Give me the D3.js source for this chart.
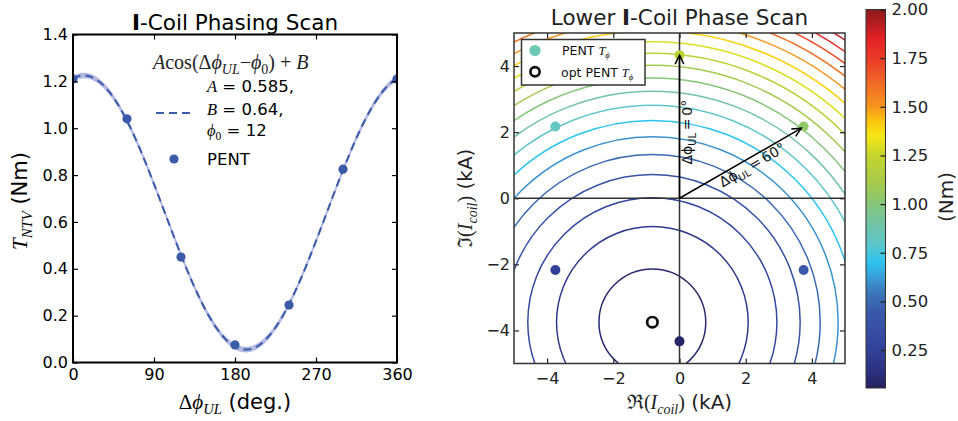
<!DOCTYPE html>
<html>
<head>
<meta charset="utf-8">
<script src="https://cdn.jsdelivr.net/npm/d3@7"></script>
<style>
  body { margin: 0; background: #fff; }
  text { font-family: "DejaVu Sans", sans-serif; }
</style>
</head>
<body>
<svg id="fig" width="958" height="421"></svg>
<script>
// Phasing scan (left panel).
const phase = [0, 60, 120, 180, 240, 300, 360];
const pentTorque = [1.21, 1.04, 0.45, 0.075, 0.245, 0.825, 1.21];
const fitA = 0.585;
const fitB = 0.64;
const fitPhi0 = 12;
const fitErr = 0.012;
const phaseTicks = [0, 90, 180, 270, 360];
const torqueTicks = [0, 0.2, 0.4, 0.6, 0.8, 1.0, 1.2, 1.4];

// Lower coil current plane (right panel).
const coilRe = [0, 3.75, 3.75, 0, -3.75, -3.75];
const coilIm = [4.33, 2.17, -2.17, -4.33, -2.17, 2.17];
const coilTorque = [1.21, 1.04, 0.45, 0.075, 0.245, 0.825];
const optRe = -0.82;
const optIm = -3.75;
const tMin = 0.055;
const tMax = 2.0;
const tCurv = 0.0173;
const levels = [0.1, 0.2, 0.3, 0.4, 0.5, 0.6, 0.7, 0.8, 0.9, 1.0,
                1.1, 1.2, 1.3, 1.4, 1.5, 1.6, 1.7, 1.8, 1.9];
const arrowRe = [0, 3.68];
const arrowIm = [4.33, 2.12];
const kaTicks = [-4, -2, 0, 2, 4];
const cbTicks = [0.25, 0.5, 0.75, 1.0, 1.25, 1.5, 1.75, 2.0];

// Colormap stops.
const cmapVals = [0.055, 0.15, 0.3, 0.45, 0.55, 0.62, 0.7, 0.8, 0.9, 1.0,
                  1.1, 1.25, 1.35, 1.42, 1.5, 1.62, 1.75, 1.85, 2.0];
const cmapCols = ['#25215f', '#2c3283', '#3447a0', '#3a5aa9', '#3c78bb',
                  '#3a9cd6', '#2cc4f0', '#5fc6c9', '#72c4a5', '#85c67a',
                  '#a3ca4d', '#c6d42e', '#f4e815', '#fcc80d', '#f7961c',
                  '#f06a27', '#ea3a28', '#e42126', '#8a1a1c'];
const cmap = d3.scaleLinear().domain(cmapVals).range(cmapCols)
  .interpolate(d3.interpolateRgb).clamp(true);

const serif = '"Liberation Serif", "DejaVu Serif", serif';
const sans = '"DejaVu Sans", sans-serif';
const blue = '#3b5ba9';
const PHI = '\u03d5';

// Mixed math / plain text.
function rich(sel, parts, fs) {
  let shifted = false;
  parts.forEach(([t, k]) => {
    const ts = sel.append('tspan').text(t);
    const sub = k.endsWith('sub');
    if (k === 'i' || k === 'sub') ts.attr('font-family', serif).attr('font-style', 'italic');
    else if (k === 'r' || k === 'rsub') ts.attr('font-family', serif);
    else ts.attr('font-family', sans);
    if (sub) ts.attr('font-size', fs * 0.7);
    if (sub && !shifted) { ts.attr('dy', fs * 0.25); shifted = true; }
    else if (!sub && shifted) { ts.attr('dy', -fs * 0.25); shifted = false; }
  });
  return sel;
}

const svg = d3.select('#fig');
const defs = svg.append('defs');

// ---------- Left panel ----------
const xL = d3.scaleLinear().domain([0, 360]).range([73, 397]);
const yL = d3.scaleLinear().domain([0, 1.4]).range([362.5, 34.5]);

defs.append('clipPath').attr('id', 'clipL').append('rect')
  .attr('x', xL(0)).attr('y', yL(1.4))
  .attr('width', xL(360) - xL(0)).attr('height', yL(0) - yL(1.4));

const gL = svg.append('g');
const fit = p => fitA * Math.cos((p - fitPhi0) * Math.PI / 180) + fitB;
const fitX = d3.range(0, 361, 1);

const plotL = gL.append('g').attr('clip-path', 'url(#clipL)');
plotL.append('path')
  .datum(fitX)
  .attr('d', d3.area().x(d => xL(d)).y0(d => yL(fit(d) - fitErr)).y1(d => yL(fit(d) + fitErr)))
  .attr('fill', '#b5bae2');
plotL.append('path')
  .datum(fitX)
  .attr('d', d3.line().x(d => xL(d)).y(d => yL(fit(d))))
  .attr('fill', 'none').attr('stroke', blue).attr('stroke-width', 2)
  .attr('stroke-dasharray', '8,5');
plotL.selectAll('circle').data(phase).join('circle')
  .attr('cx', d => xL(d)).attr('cy', (d, i) => yL(pentTorque[i]))
  .attr('r', 4.6).attr('fill', blue);

function styleAxis(g, color, fs) {
  g.select('.domain').remove();
  g.selectAll('line').attr('stroke', color).attr('stroke-width', 1.2);
  g.selectAll('text').attr('fill', color).attr('font-size', fs)
    .attr('font-family', sans);
}

gL.append('g').attr('transform', `translate(0,${yL(0)})`)
  .call(d3.axisBottom(xL).tickValues(phaseTicks).tickSize(-5).tickPadding(6).tickFormat(d3.format('d')))
  .call(styleAxis, '#000', 16);
gL.append('g').attr('transform', `translate(0,${yL(1.4)})`)
  .call(d3.axisTop(xL).tickValues(phaseTicks).tickSize(-5).tickFormat(''))
  .call(styleAxis, '#000', 16);
gL.append('g').attr('transform', `translate(${xL(0)},0)`)
  .call(d3.axisLeft(yL).tickValues(torqueTicks).tickSize(-5).tickPadding(5).tickFormat(d3.format('.1f')))
  .call(styleAxis, '#000', 16);
gL.append('g').attr('transform', `translate(${xL(360)},0)`)
  .call(d3.axisRight(yL).tickValues(torqueTicks).tickSize(-5).tickFormat(''))
  .call(styleAxis, '#000', 16);

gL.append('rect')
  .attr('x', xL(0)).attr('y', yL(1.4))
  .attr('width', xL(360) - xL(0)).attr('height', yL(0) - yL(1.4))
  .attr('fill', 'none').attr('stroke', '#000').attr('stroke-width', 2);

// Title and labels.
const tL = gL.append('text').attr('x', (xL(0) + xL(360)) / 2).attr('y', 30)
  .attr('text-anchor', 'middle').attr('font-size', 21.5);
tL.append('tspan').attr('font-weight', 'bold').text('I');
tL.append('tspan').text('-Coil Phasing Scan');

rich(gL.append('text').attr('x', (xL(0) + xL(360)) / 2).attr('y', 409)
  .attr('text-anchor', 'middle').attr('font-size', 21),
  [['Δ', 'r'], [PHI, 'i'], ['UL', 'sub'], [' (deg.)', 's']], 21);

rich(gL.append('text').attr('transform', 'translate(27,201) rotate(-90)')
  .attr('text-anchor', 'middle').attr('font-size', 21),
  [['T', 'i'], ['NTV', 'sub'], [' (Nm)', 's']], 21);

// Legend.
rich(gL.append('text').attr('x', 153).attr('y', 69).attr('font-size', 20).attr('fill', '#222'),
  [['A', 'i'], ['cos(Δ', 'r'], [PHI, 'i'], ['UL', 'sub'], ['−', 'r'], [PHI, 'i'], ['0', 'rsub'],
   [') + ', 'r'], ['B', 'i']], 20);
rich(gL.append('text').attr('x', 207).attr('y', 92).attr('font-size', 16.5),
  [['A', 'i'], [` = ${fitA},`, 's']], 16.5);
rich(gL.append('text').attr('x', 207).attr('y', 115).attr('font-size', 16.5),
  [['B', 'i'], [` = ${fitB},`, 's']], 16.5);
rich(gL.append('text').attr('x', 207).attr('y', 136).attr('font-size', 16.5),
  [[PHI, 'i'], ['0', 'rsub'], [` = ${fitPhi0}`, 's']], 16.5);
gL.append('line').attr('x1', 156).attr('x2', 194).attr('y1', 113).attr('y2', 113)
  .attr('stroke', blue).attr('stroke-width', 2).attr('stroke-dasharray', '8,5');
gL.append('circle').attr('cx', 174).attr('cy', 159).attr('r', 4.6).attr('fill', blue);
gL.append('text').attr('x', 207).attr('y', 165).attr('font-size', 16.5).text('PENT');

// ---------- Right panel ----------
const xR = d3.scaleLinear().domain([-5, 5]).range([514, 845]);
const yR = d3.scaleLinear().domain([-5, 5]).range([363.5, 33]);

defs.append('clipPath').attr('id', 'clipR').append('rect')
  .attr('x', xR(-5)).attr('y', yR(5))
  .attr('width', xR(5) - xR(-5)).attr('height', yR(-5) - yR(5));

const gR = svg.append('g');
const plotR = gR.append('g').attr('clip-path', 'url(#clipR)');

// Contours of T = tMin + tCurv * |I - I_opt|^2 are circles round the optimum.
plotR.selectAll('ellipse.lvl').data(levels).join('ellipse')
  .attr('class', 'lvl')
  .attr('cx', xR(optRe)).attr('cy', yR(optIm))
  .attr('rx', d => xR(Math.sqrt((d - tMin) / tCurv)) - xR(0))
  .attr('ry', d => yR(0) - yR(Math.sqrt((d - tMin) / tCurv)))
  .attr('fill', 'none').attr('stroke', d => cmap(d)).attr('stroke-width', 1.5);

plotR.append('line').attr('x1', xR(-5)).attr('x2', xR(5)).attr('y1', yR(0)).attr('y2', yR(0))
  .attr('stroke', '#333').attr('stroke-width', 1.5);
plotR.append('line').attr('x1', xR(0)).attr('x2', xR(0)).attr('y1', yR(-5)).attr('y2', yR(5))
  .attr('stroke', '#333').attr('stroke-width', 1.5);

plotR.selectAll('circle.pent').data(coilRe).join('circle')
  .attr('class', 'pent')
  .attr('cx', d => xR(d)).attr('cy', (d, i) => yR(coilIm[i]))
  .attr('r', 5).attr('fill', (d, i) => cmap(coilTorque[i]));

plotR.append('circle').attr('cx', xR(optRe)).attr('cy', yR(optIm))
  .attr('r', 5.2).attr('fill', 'none').attr('stroke', '#111').attr('stroke-width', 2.7);

// Arrows.
arrowRe.forEach((re, i) => {
  const x0 = xR(0), y0 = yR(0), x1 = xR(re), y1 = yR(arrowIm[i]);
  const ang = Math.atan2(y1 - y0, x1 - x0);
  const hl = 10, ha = 0.45;
  plotR.append('line').attr('x1', x0).attr('y1', y0).attr('x2', x1).attr('y2', y1)
    .attr('stroke', '#000').attr('stroke-width', 1.5);
  plotR.append('path')
    .attr('d', d3.line()([
      [x1 - hl * Math.cos(ang - ha), y1 - hl * Math.sin(ang - ha)],
      [x1, y1],
      [x1 - hl * Math.cos(ang + ha), y1 - hl * Math.sin(ang + ha)]
    ]))
    .attr('fill', 'none').attr('stroke', '#000').attr('stroke-width', 1.5);
});

rich(plotR.append('text')
  .attr('transform', `translate(${xR(0.38)},${yR(2.0)}) rotate(-90)`)
  .attr('text-anchor', 'middle').attr('font-size', 14).attr('fill', '#111'),
  [['Δ' + PHI, 's'], ['UL', 'ssub'], ['\u2009=\u20090°', 's']], 14);
rich(plotR.append('text')
  .attr('transform', `translate(${xR(2.27)},${yR(0.88)}) rotate(-30)`)
  .attr('text-anchor', 'middle').attr('font-size', 14).attr('fill', '#111'),
  [['Δ' + PHI, 's'], ['UL', 'ssub'], ['\u2009=\u200960°', 's']], 14);

// Axes.
gR.append('g').attr('transform', `translate(0,${yR(-5)})`)
  .call(d3.axisBottom(xR).tickValues(kaTicks).tickSize(-5).tickPadding(9))
  .call(styleAxis, '#222', 16);
gR.append('g').attr('transform', `translate(0,${yR(5)})`)
  .call(d3.axisTop(xR).tickValues(kaTicks).tickSize(-5).tickFormat(''))
  .call(styleAxis, '#222', 16);
gR.append('g').attr('transform', `translate(${xR(-5)},0)`)
  .call(d3.axisLeft(yR).tickValues(kaTicks).tickSize(-5).tickPadding(4))
  .call(styleAxis, '#222', 16);
gR.append('g').attr('transform', `translate(${xR(5)},0)`)
  .call(d3.axisRight(yR).tickValues(kaTicks).tickSize(-5).tickFormat(''))
  .call(styleAxis, '#222', 16);

gR.append('rect')
  .attr('x', xR(-5)).attr('y', yR(5))
  .attr('width', xR(5) - xR(-5)).attr('height', yR(-5) - yR(5))
  .attr('fill', 'none').attr('stroke', '#333').attr('stroke-width', 1.5);

// Legend box.
const lg = gR.append('g');
lg.append('rect').attr('x', 521.5).attr('y', 39.5).attr('width', 123.5).attr('height', 45.5)
  .attr('fill', '#fff').attr('stroke', '#333').attr('stroke-width', 1.5);
lg.append('circle').attr('cx', 535).attr('cy', 50.5).attr('r', 5.6).attr('fill', '#6dc8b4');
lg.append('circle').attr('cx', 535).attr('cy', 71.8).attr('r', 4.6)
  .attr('fill', 'none').attr('stroke', '#111').attr('stroke-width', 2.7);
rich(lg.append('text').attr('x', 562).attr('y', 55).attr('font-size', 12.5).attr('fill', '#111'),
  [['PENT ', 's'], ['T', 'i'], [PHI, 'sub']], 12.5);
rich(lg.append('text').attr('x', 561).attr('y', 76.5).attr('font-size', 12.5).attr('fill', '#111'),
  [['opt PENT ', 's'], ['T', 'i'], [PHI, 'sub']], 12.5);

// Title and labels.
const tR = gR.append('text').attr('x', (xR(-5) + xR(5)) / 2).attr('y', 25)
  .attr('text-anchor', 'middle').attr('font-size', 21.5).attr('fill', '#222');
tR.append('tspan').text('Lower ');
tR.append('tspan').attr('font-weight', 'bold').text('I');
tR.append('tspan').text('-Coil Phase Scan');

rich(gR.append('text').attr('x', (xR(-5) + xR(5)) / 2).attr('y', 409)
  .attr('text-anchor', 'middle').attr('font-size', 20).attr('fill', '#222'),
  [['ℜ', 'r'], ['(', 'r'], ['I', 'i'], ['coil', 'sub'], [')', 'r'], [' (kA)', 's']], 20);
rich(gR.append('text').attr('transform', `translate(472,${(yR(-5) + yR(5)) / 2}) rotate(-90)`)
  .attr('text-anchor', 'middle').attr('font-size', 20).attr('fill', '#222'),
  [['ℑ', 'r'], ['(', 'r'], ['I', 'i'], ['coil', 'sub'], [')', 'r'], [' (kA)', 's']], 20);

// ---------- Colorbar ----------
const yC = d3.scaleLinear().domain([tMin, tMax]).range([388, 9.5]);
const grad = defs.append('linearGradient').attr('id', 'cbar')
  .attr('x1', 0).attr('y1', 1).attr('x2', 0).attr('y2', 0);
grad.selectAll('stop').data(cmapVals).join('stop')
  .attr('offset', d => (d - tMin) / (tMax - tMin))
  .attr('stop-color', (d, i) => cmapCols[i]);

const gC = svg.append('g');
gC.append('rect').attr('x', 866).attr('y', yC(tMax)).attr('width', 19.5)
  .attr('height', yC(tMin) - yC(tMax)).attr('fill', 'url(#cbar)')
  .attr('stroke', '#333').attr('stroke-width', 1);
gC.append('g').attr('transform', 'translate(885.5,0)')
  .call(d3.axisRight(yC).tickValues(cbTicks).tickSize(-5).tickPadding(6).tickFormat(d3.format('.2f')))
  .call(styleAxis, '#222', 16.5);
gC.append('text').attr('transform', `translate(953,197) rotate(-90)`)
  .attr('text-anchor', 'middle').attr('font-size', 20).attr('fill', '#222').text('(Nm)');
</script>
</body>
</html>
